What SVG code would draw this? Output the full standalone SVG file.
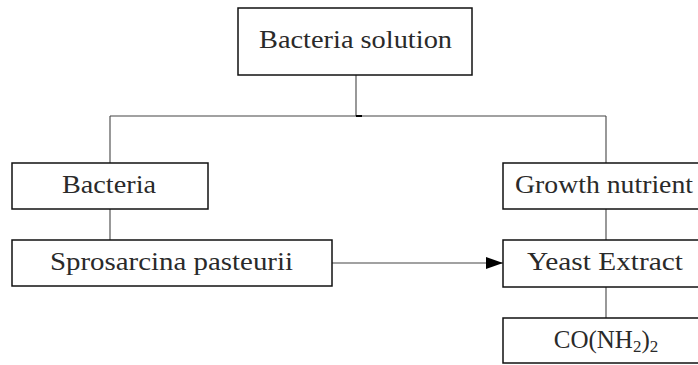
<svg xmlns="http://www.w3.org/2000/svg" width="698" height="365" viewBox="0 0 698 365">
<style>
.box{fill:#fff;stroke:#111;stroke-width:1.5}
.t{font-family:"Liberation Serif","DejaVu Serif",serif;font-size:25px;fill:#2a2a2a;text-anchor:middle}
.c{fill:none;stroke:#444;stroke-width:1.1}
</style>
<defs>
<marker id="ah" markerWidth="18" markerHeight="12" refX="17" refY="6" orient="auto" markerUnits="userSpaceOnUse">
<path d="M0,0 L17,6 L0,12 Z" fill="#000"/>
</marker>
</defs>
<g id="connectors">
<path class="c" d="M356,75 V116"/>
<path class="c" d="M110,116 H606"/>
<path d="M356,116 H362" stroke="#000" stroke-width="2"/>
<path class="c" d="M110,116 V163"/>
<path class="c" d="M606,116 V163"/>
<path class="c" d="M110,209 V240"/>
<path class="c" d="M606,209 V240"/>
<path class="c" d="M606,287 V318"/>
<path class="c" d="M332,263 H503" marker-end="url(#ah)"/>
</g>
<g id="bacteria-solution">
<rect class="box" x="238" y="8" width="234" height="67"/>
<text class="t" x="355.5" y="48" textLength="193" lengthAdjust="spacingAndGlyphs">Bacteria solution</text>
</g>
<g id="bacteria">
<rect class="box" x="12" y="163" width="196" height="46"/>
<text class="t" x="109" y="193" textLength="94" lengthAdjust="spacingAndGlyphs">Bacteria</text>
</g>
<g id="sprosarcina">
<rect class="box" x="12" y="240" width="320" height="46"/>
<text class="t" x="171.5" y="270" textLength="243" lengthAdjust="spacingAndGlyphs">Sprosarcina pasteurii</text>
</g>
<g id="growth-nutrient">
<rect class="box" x="503" y="163" width="210" height="46"/>
<text class="t" x="604" y="193" textLength="178" lengthAdjust="spacingAndGlyphs">Growth nutrient</text>
</g>
<g id="yeast-extract">
<rect class="box" x="503" y="240" width="210" height="47"/>
<text class="t" x="605" y="270" textLength="156" lengthAdjust="spacingAndGlyphs">Yeast Extract</text>
</g>
<g id="urea">
<rect class="box" x="503" y="318" width="210" height="45"/>
<text class="t" x="606" y="348">CO(NH<tspan font-size="17" dy="4">2</tspan><tspan dy="-4">)</tspan><tspan font-size="17" dy="4">2</tspan></text>
</g>
</svg>
